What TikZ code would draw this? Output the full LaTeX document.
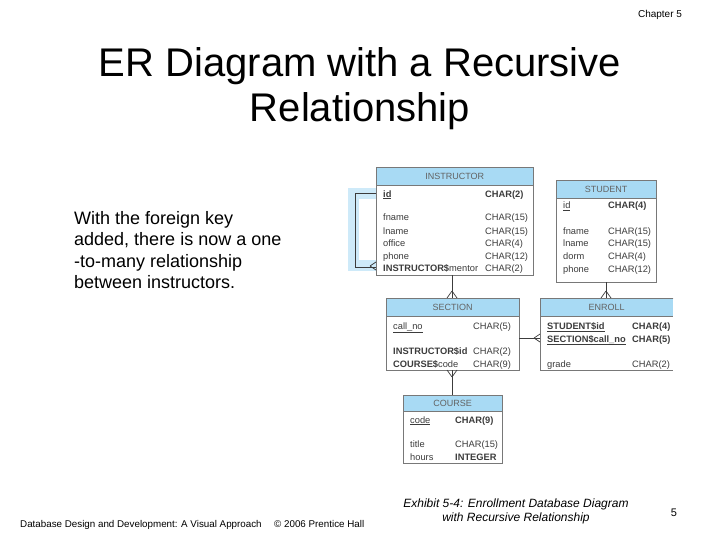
\documentclass[tikz,border=0pt]{standalone}
\usepackage{fontspec}
\setmainfont{Liberation Sans}
\definecolor{hdblue}{RGB}{168,218,244}
\definecolor{bandblue}{RGB}{206,234,249}
\definecolor{fldgray}{RGB}{60,60,60}
\definecolor{boxgray}{RGB}{120,120,120}
\tikzset{
  tblbox/.style={draw=boxgray, fill=white, inner sep=0pt, anchor=north west},
  tblhead/.style={draw=boxgray, fill=hdblue, inner sep=0pt, anchor=north west, text=fldgray!80, font=\fontsize{9}{9}\selectfont},
  fld/.style={anchor=west, inner sep=0pt, text height=10pt, text depth=2pt, text=fldgray, font=\fontsize{9.3}{10}\selectfont},
  link/.style={draw=fldgray, line width=0.7pt}
}
\begin{document}
\begin{tikzpicture}[x=1pt,y=1pt,yscale=-1]
\useasboundingbox (0,0) rectangle (720,540);

% Title and text
\node[inner sep=0pt, font=\fontsize{10}{11}\selectfont] (chap) at (660,15) {Chapter 5};
\node[inner sep=0pt, align=center, font=\fontsize{40}{45}\selectfont] (title) at (360,89) {ER Diagram with a Recursive\\Relationship};
\node[inner sep=0pt, anchor=north west, align=left, font=\fontsize{18}{21.4}\selectfont] (note) at (74,211) {With the foreign key\\added, there is now a one\\-to-many relationship\\between instructors.};

% recursive band (under the tables)
\draw [color=bandblue, line width=11pt] (376,193.5) -- (353,193.5) -- (353,265.5) -- (376,265.5);

% INSTRUCTOR
\node[tblbox, minimum width=157, minimum height=108] (instr) at (376,167) {};
\node[tblhead, minimum width=157, minimum height=18] (instr-h) at (376,167) {INSTRUCTOR};
\node[fld] (ins-id) at (383,193) {\underline{\textbf{id}}};
\node[fld] (ins-idt) at (485,193) {\textbf{CHAR(2)}};
\node[fld] (ins-fn) at (383,217) {fname};
\node[fld] (ins-fnt) at (485,217) {CHAR(15)};
\node[fld] (ins-ln) at (383,230) {lname};
\node[fld] (ins-lnt) at (485,230) {CHAR(15)};
\node[fld] (ins-of) at (383,242) {office};
\node[fld] (ins-oft) at (485,242) {CHAR(4)};
\node[fld] (ins-ph) at (383,255) {phone};
\node[fld] (ins-pht) at (485,255) {CHAR(12)};
\node[fld] (ins-me) at (383,267) {\textbf{INSTRUCTOR\$}mentor};
\node[fld] (ins-met) at (485,267) {CHAR(2)};

% STUDENT
\node[tblbox, minimum width=100, minimum height=102] (stud) at (556,180) {};
\node[tblhead, minimum width=100, minimum height=18] (stud-h) at (556,180) {STUDENT};
\node[fld] (stu-id) at (563,205) {\underline{id}};
\node[fld] (stu-idt) at (608,205) {\textbf{CHAR(4)}};
\node[fld] (stu-fn) at (563,230) {fname};
\node[fld] (stu-fnt) at (608,230) {CHAR(15)};
\node[fld] (stu-ln) at (563,242) {lname};
\node[fld] (stu-lnt) at (608,242) {CHAR(15)};
\node[fld] (stu-do) at (563,255) {dorm};
\node[fld] (stu-dot) at (608,255) {CHAR(4)};
\node[fld] (stu-ph) at (563,268) {phone};
\node[fld] (stu-pht) at (608,268) {CHAR(12)};

% SECTION
\node[tblbox, minimum width=133, minimum height=72] (sect) at (386,298) {};
\node[tblhead, minimum width=133, minimum height=18] (sect-h) at (386,298) {SECTION};
\node[fld] (sec-cn) at (393,325) {\underline{call\_no}};
\node[fld] (sec-cnt) at (473,325) {CHAR(5)};
\node[fld] (sec-in) at (393,350) {\textbf{INSTRUCTOR\$id}};
\node[fld] (sec-int) at (473,350) {CHAR(2)};
\node[fld] (sec-co) at (393,363) {\textbf{COURSE\$}code};
\node[fld] (sec-cot) at (473,363) {CHAR(9)};

% ENROLL (open on the right)
\node[inner sep=0pt, anchor=north west, fill=white, minimum width=133, minimum height=72] (enr) at (540,298) {};
\draw [boxgray] (enr.north east) -- (enr.north west) -- (enr.south west) -- (enr.south east);
\node[inner sep=0pt, anchor=north west, fill=hdblue, minimum width=133, minimum height=18, text=fldgray!80, font=\fontsize{9}{9}\selectfont] (enr-h) at (540,298) {ENROLL};
\draw [boxgray] (enr-h.north east) -- (enr-h.north west) -- (enr-h.south west) -- (enr-h.south east);
\node[fld] (enr-st) at (547,325) {\underline{\textbf{STUDENT\$id}}};
\node[fld] (enr-stt) at (632,325) {\textbf{CHAR(4)}};
\node[fld] (enr-se) at (547,338) {\underline{\textbf{SECTION\$call\_no}}};
\node[fld] (enr-set) at (632,338) {\textbf{CHAR(5)}};
\node[fld] (enr-gr) at (547,363) {grade};
\node[fld] (enr-grt) at (632,363) {CHAR(2)};

% COURSE
\node[tblbox, minimum width=99, minimum height=68] (cour) at (403,395) {};
\node[tblhead, minimum width=99, minimum height=16] (cour-h) at (403,395) {COURSE};
\node[fld] (cou-co) at (410,419) {\underline{code}};
\node[fld] (cou-cot) at (455,419) {\textbf{CHAR(9)}};
\node[fld] (cou-ti) at (410,443) {title};
\node[fld] (cou-tit) at (455,443) {CHAR(15)};
\node[fld] (cou-ho) at (410,456) {hours};
\node[fld] (cou-hot) at (455,456) {\textbf{INTEGER}};

% Relationships
\coordinate (recL) at (355,193);
\draw [link] (ins-id -| instr.west) -- (recL) |- (ins-me -| instr.west);
\draw [link] (370,266) -- (376,262) (370,266) -- (376,270);

\draw [link] (instr.south -| 452,0) -- (sect.north -| 452,0);
\draw [link] (452,291) -- (447,298) (452,291) -- (457,298);

\draw [link] (stud.south -| 606,0) -- (enr.north -| 606,0);
\draw [link] (606,291) -- (601,298) (606,291) -- (611,298);

\draw [link] (sect.east |- 0,338) -- (enr.west |- 0,338);
\draw [link] (534,338) -- (540,334) (534,338) -- (540,342);

\draw [link] (cour.north -| 452,0) -- (sect.south -| 452,0);
\draw [link] (452,377) -- (447,370) (452,377) -- (457,370);

% Footer
\node[inner sep=0pt, anchor=west, font=\fontsize{9.8}{10}\selectfont] (foot) at (20,525) {Database Design and Development: A Visual Approach\quad\ © 2006 Prentice Hall};
\node[inner sep=0pt, align=center, font=\fontsize{12}{14}\itshape] (exh) at (516,511) {Exhibit 5-4: Enrollment Database Diagram\\with Recursive Relationship};
\node[inner sep=0pt, font=\fontsize{11}{12}\selectfont] (pg) at (674,513) {5};

\end{tikzpicture}
\end{document}
